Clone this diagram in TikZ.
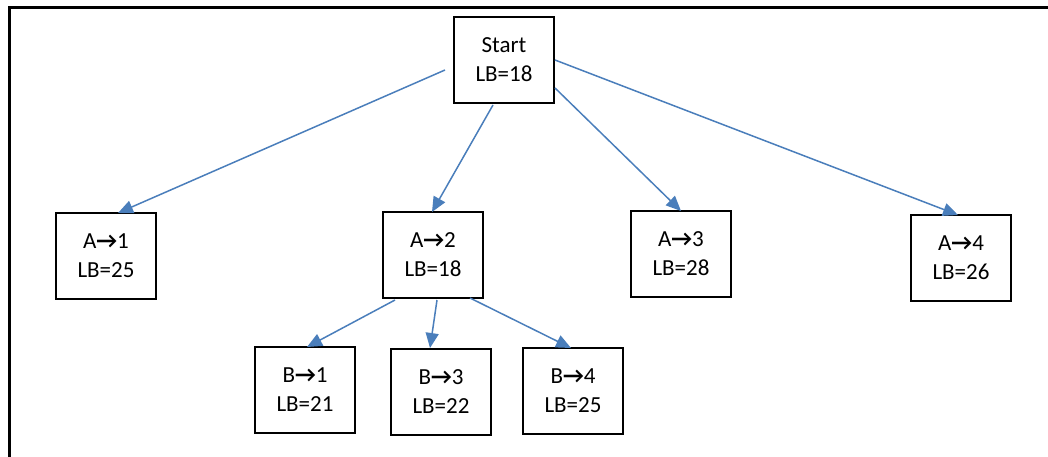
\documentclass[tikz,border=0pt]{standalone}
\usepackage{fontspec}
\setmainfont{Carlito}
\usetikzlibrary{arrows.meta}
\newcommand{\rarr}{{\bfseries →}}
\definecolor{edgeblue}{HTML}{4A7EBB}
\tikzset{
  box/.style={draw=black, line width=2pt, minimum width=100pt, minimum height=86pt, inner sep=0pt, align=center, font=\fontsize{23}{29}\selectfont},
  conn/.style={draw=edgeblue, line width=1.5pt, -{Triangle[length=15pt,width=13pt]}},
}
\begin{document}
\begin{tikzpicture}[x=1pt,y=-1pt]
\useasboundingbox (0,0) rectangle (1048,457);
\draw[line width=3pt, line cap=rect] (9,470) -- (9,8) -- (1060,8);
\node[box] (start) at (504,60) {Start\\LB=18};
\node[box] (a1) at (106,256) {A\rarr1\\LB=25};
\node[box] (a2) at (433,255) {A\rarr2\\LB=18};
\node[box] (a3) at (681,254) {A\rarr3\\LB=28};
\node[box] (a4) at (961,258) {A\rarr4\\LB=26};
\node[box] (b1) at (305,390) {B\rarr1\\LB=21};
\node[box] (b3) at (441,392) {B\rarr3\\LB=22};
\node[box] (b4) at (573,391) {B\rarr4\\LB=25};
\coordinate (s1) at (445,70);
\coordinate (s2) at (493,105);
\coordinate (s3) at (555,88);
\coordinate (s4) at (555,60);
\coordinate (t1) at (118,213);
\coordinate (t2) at (432,212);
\coordinate (t3) at (681,211);
\coordinate (t4) at (958,215);
\coordinate (p1) at (395,300);
\coordinate (p3) at (437,300);
\coordinate (p4) at (470,298);
\coordinate (u1) at (307,347);
\coordinate (u3) at (430,348);
\coordinate (u4) at (571,348);
\draw[conn] (s1) -- (t1);
\draw[conn] (s2) -- (t2);
\draw[conn] (s3) -- (t3);
\draw[conn] (s4) -- (t4);
\draw[conn] (p1) -- (u1);
\draw[conn] (p3) -- (u3);
\draw[conn] (p4) -- (u4);
\end{tikzpicture}
\end{document}
